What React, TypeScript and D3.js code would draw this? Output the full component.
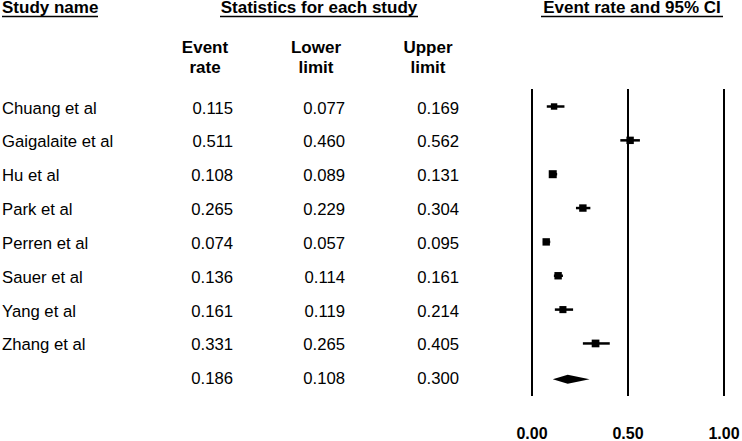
import React from "react";
import * as d3 from "d3";

const studies = [
  "Chuang et al",
  "Gaigalaite et al",
  "Hu et al",
  "Park et al",
  "Perren et al",
  "Sauer et al",
  "Yang et al",
  "Zhang et al",
];
const eventRate = [0.115, 0.511, 0.108, 0.265, 0.074, 0.136, 0.161, 0.331];
const lowerLimit = [0.077, 0.46, 0.089, 0.229, 0.057, 0.114, 0.119, 0.265];
const upperLimit = [0.169, 0.562, 0.131, 0.304, 0.095, 0.161, 0.214, 0.405];
const weights = [9, 12, 14, 12, 12, 12, 11, 13];
const summary = { rate: 0.186, lower: 0.108, upper: 0.3 };
const axisTicks = [0, 0.5, 1];
const tickLabels = ["0.00", "0.50", "1.00"];

const W = 742;
const H = 441;
const FONT = "'Liberation Sans', Arial, sans-serif";

export default function App() {
  const x = d3.scaleLinear().domain([0, 1]).range([532, 724]);
  const rows = d3.range(studies.length + 1);
  const y = d3.scalePoint<number>().domain(rows).range([113.5, 384.3]);
  const size = d3
    .scaleSqrt()
    .domain([0, d3.max(weights) as number])
    .range([0, 8]);

  const colX = { event: 233, lower: 345, upper: 459 };
  const headCenters = [
    { x: 205, l1: "Event", l2: "rate" },
    { x: 316, l1: "Lower", l2: "limit" },
    { x: 428, l1: "Upper", l2: "limit" },
  ];
  const fmt = d3.format(".3f");
  const axisFmt = (i: number) => tickLabels[i];

  const sy = (y(studies.length) as number) - 5;
  const diamond = [
    [x(summary.lower), sy],
    [x(summary.rate), sy - 4.5],
    [x(summary.upper), sy],
    [x(summary.rate), sy + 4.5],
  ];

  return (
    <svg
      width={W}
      height={H}
      style={{ position: "absolute", left: 0, top: 0, background: "#fff" }}
      fontFamily={FONT}
      fontSize={16.7}
    >
      <rect width={W} height={H} fill="#fff" />
      {/* top headers */}
      <g fontWeight="bold" fill="#000" fontSize={17}>
        <text x={2} y={13}>Study name</text>
        <line x1={2} x2={98} y1={16.5} y2={16.5} stroke="#000" strokeWidth={1.5} />
        <text x={319} y={13} textAnchor="middle">Statistics for each study</text>
        <line x1={220} x2={418} y1={16.5} y2={16.5} stroke="#000" strokeWidth={1.5} />
        <text x={632} y={13} textAnchor="middle">Event rate and 95% CI</text>
        <line x1={541} x2={723} y1={16.5} y2={16.5} stroke="#000" strokeWidth={1.5} />
        {headCenters.map((h, i) => (
          <g key={i}>
            <text x={h.x} y={53} textAnchor="middle">{h.l1}</text>
            <text x={h.x} y={73} textAnchor="middle">{h.l2}</text>
          </g>
        ))}
      </g>

      {/* study rows */}
      <g fill="#000">
        {studies.map((s, i) => (
          <g key={s}>
            <text x={2} y={y(i)}>{s}</text>
            <text x={colX.event} y={y(i)} textAnchor="end">{fmt(eventRate[i])}</text>
            <text x={colX.lower} y={y(i)} textAnchor="end">{fmt(lowerLimit[i])}</text>
            <text x={colX.upper} y={y(i)} textAnchor="end">{fmt(upperLimit[i])}</text>
          </g>
        ))}
        <text x={colX.event} y={y(studies.length)} textAnchor="end">{fmt(summary.rate)}</text>
        <text x={colX.lower} y={y(studies.length)} textAnchor="end">{fmt(summary.lower)}</text>
        <text x={colX.upper} y={y(studies.length)} textAnchor="end">{fmt(summary.upper)}</text>
      </g>

      {/* reference lines */}
      {axisTicks.map((t) => (
        <line key={t} x1={x(t)} x2={x(t)} y1={89} y2={396} stroke="#000" strokeWidth={2} />
      ))}

      {/* CI lines and squares */}
      {studies.map((s, i) => {
        const cy = (y(i) as number) - 7;
        const sz = size(weights[i]);
        return (
          <g key={s}>
            <line x1={x(lowerLimit[i])} x2={x(upperLimit[i])} y1={cy} y2={cy} stroke="#000" strokeWidth={2.5} />
            <rect x={x(eventRate[i]) - sz / 2} y={cy - sz / 2} width={sz} height={sz} fill="#000" />
          </g>
        );
      })}

      {/* summary diamond */}
      <path d={(d3.line()(diamond as [number, number][]) as string) + "Z"} fill="#000" />

      {/* axis labels */}
      <g fontWeight="bold" fontSize={16}>
        {axisTicks.map((t, i) => (
          <text key={t} x={x(t)} y={439} textAnchor="middle">{axisFmt(i)}</text>
        ))}
      </g>
    </svg>
  );
}
